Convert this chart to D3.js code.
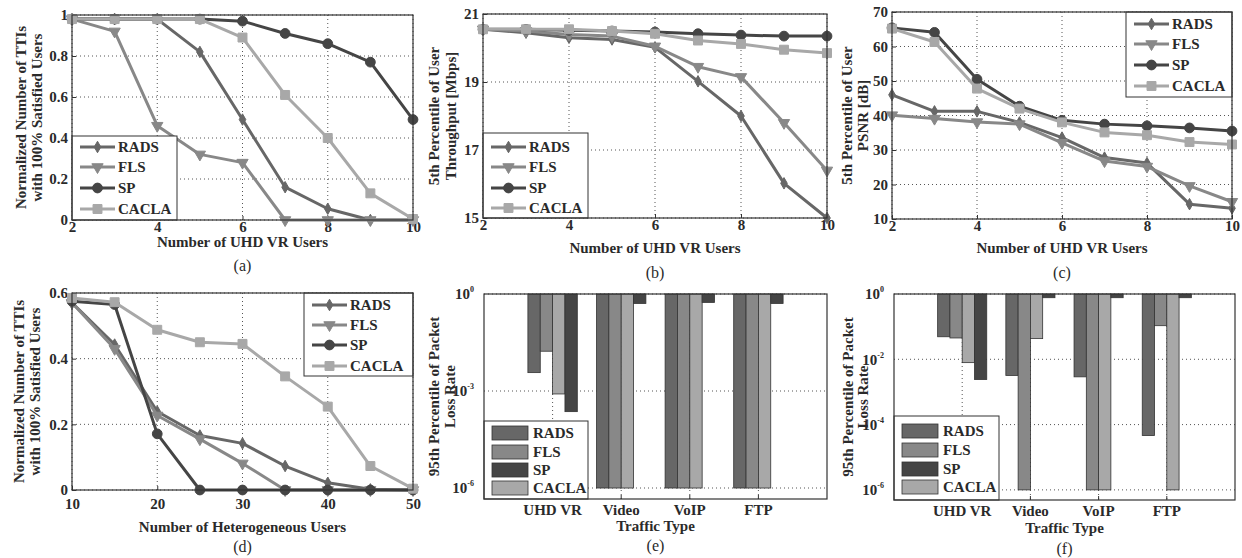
<!DOCTYPE html>
<html>
<head>
<meta charset="utf-8">
<script src="https://cdn.jsdelivr.net/npm/d3@7"></script>
<style>
  body { margin: 0; background: #fff; }
  svg { display: block; }
  text { font-family: "Liberation Serif", "Times New Roman", serif; font-weight: bold; fill: #2a2a2a; }
  .cap { font-weight: normal; }
</style>
</head>
<body>
<svg id="fig" width="1242" height="558"></svg>
<script>
// ---- data ----
const seriesNames = ["RADS", "FLS", "SP", "CACLA"];
const seriesColor = ["#676767", "#888888", "#454545", "#a8a8a8"];

const vrUsers = [2, 3, 4, 5, 6, 7, 8, 9, 10];
const hetUsers = [10, 15, 20, 25, 30, 35, 40, 45, 50];
const trafficTypes = ["UHD VR", "Video", "VoIP", "FTP"];

// (a) normalized TTIs, UHD VR users
const ttiRADS  = [0.98, 0.98, 0.98, 0.82, 0.49, 0.16, 0.055, 0, 0];
const ttiFLS   = [0.98, 0.92, 0.46, 0.32, 0.28, 0, 0, 0, 0];
const ttiSP    = [0.98, 0.98, 0.98, 0.98, 0.97, 0.91, 0.86, 0.77, 0.49];
const ttiCACLA = [0.98, 0.98, 0.98, 0.98, 0.89, 0.61, 0.40, 0.13, 0.005];

// (b) 5th percentile throughput [Mbps]
const thrRADS  = [20.55, 20.45, 20.3, 20.25, 20.02, 19.02, 18.0, 16.02, 15.0];
const thrFLS   = [20.55, 20.5, 20.4, 20.35, 20.05, 19.45, 19.15, 17.8, 16.4];
const thrSP    = [20.55, 20.55, 20.52, 20.5, 20.47, 20.42, 20.38, 20.35, 20.35];
const thrCACLA = [20.55, 20.55, 20.55, 20.5, 20.42, 20.22, 20.12, 19.95, 19.85];

// (c) 5th percentile PSNR [dB]
const psnrRADS  = [46, 41.2, 41.2, 38, 33.6, 27.8, 26.2, 14.3, 13.1];
const psnrFLS   = [40.1, 39.1, 38.1, 37.5, 32.1, 26.8, 25.2, 19.6, 15.0];
const psnrSP    = [65.4, 64.1, 50.5, 42.7, 38.6, 37.5, 37, 36.4, 35.5];
const psnrCACLA = [65.2, 61.3, 47.8, 42, 38, 35.1, 34.3, 32.3, 31.6];

// (d) normalized TTIs, heterogeneous users
const hetRADS  = [0.57, 0.443, 0.239, 0.166, 0.142, 0.073, 0.022, 0.002, 0];
const hetFLS   = [0.57, 0.43, 0.227, 0.155, 0.081, 0, 0, 0, 0];
const hetSP    = [0.575, 0.565, 0.171, 0, 0, 0, 0, 0, 0];
const hetCACLA = [0.585, 0.572, 0.488, 0.45, 0.445, 0.346, 0.254, 0.073, 0.004];

// (e) 95th percentile packet loss rate, per traffic type
const lossRADS  = [3.7e-3, 1e-6, 1e-6, 1e-6];
const lossFLS   = [1.7e-2, 1e-6, 1e-6, 1e-6];
const lossSP    = [2.3e-4, 0.51, 0.55, 0.51];
const lossCACLA = [8.1e-4, 1e-6, 1e-6, 1e-6];

// (f) 95th percentile packet loss rate, heterogeneous scenario
const hlossRADS  = [0.049, 3.2e-3, 2.9e-3, 4.6e-5];
const hlossFLS   = [0.045, 1e-6, 1e-6, 0.107];
const hlossSP    = [2.4e-3, 0.77, 0.77, 0.77];
const hlossCACLA = [7.9e-3, 0.043, 1e-6, 1e-6];

// bars are drawn RADS, FLS, CACLA, SP inside each group
const barOrder = [0, 1, 3, 2];

// tick labels
const vrTicks = [2, 4, 6, 8, 10];
const hetTicks = [10, 20, 30, 40, 50];
const ttiTicks = [0, 0.2, 0.4, 0.6, 0.8, 1];
const thrTicks = [15, 17, 19, 21];
const psnrTicks = [10, 20, 30, 40, 50, 60, 70];
const hetTtiTicks = [0, 0.2, 0.4, 0.6];
const lossTicksE = [-6, -3, 0];
const lossTicksF = [-6, -4, -2, 0];

const svg = d3.select("#fig");
const FS = 15;

function frame(g, b) {
    g.append("rect")
        .attr("x", b.l).attr("y", b.t)
        .attr("width", b.r - b.l).attr("height", b.b - b.t)
        .attr("fill", "none").attr("stroke", "#333").attr("stroke-width", 1.2);
}

function yTitle(g, lines, xs, yc) {
    lines.forEach((s, i) => {
        g.append("text")
            .attr("transform", `translate(${xs[i]},${yc}) rotate(-90)`)
            .attr("text-anchor", "middle").attr("dy", "0.35em")
            .attr("font-size", FS).text(s);
    });
}

function centerText(g, s, x, y, cls, size) {
    g.append("text").attr("class", cls || null)
        .attr("x", x).attr("y", y).attr("dy", "0.35em")
        .attr("text-anchor", "middle").attr("font-size", size || FS).text(s);
}

function marker(i) {
    const types = [d3.symbolDiamond, d3.symbolTriangle, d3.symbolCircle, d3.symbolSquare];
    const sizes = [38, 55, 75, 80];
    return d3.symbol().type(types[i]).size(sizes[i])();
}

function linePanel(p) {
    const g = svg.append("g");
    const b = p.box;
    const x = d3.scaleLinear().domain(p.xDomain).range([b.l, b.r]);
    const y = d3.scaleLinear().domain(p.yDomain).range([b.b, b.t]);

    // dotted grid
    g.append("g").selectAll("line").data(p.xTicks).join("line")
        .attr("x1", d => x(d)).attr("x2", d => x(d)).attr("y1", b.t).attr("y2", b.b)
        .attr("stroke", "#555").attr("stroke-dasharray", "1,3");
    g.append("g").selectAll("line").data(p.yTicks).join("line")
        .attr("y1", d => y(d)).attr("y2", d => y(d)).attr("x1", b.l).attr("x2", b.r)
        .attr("stroke", "#555").attr("stroke-dasharray", "1,3");

    // axes (inward ticks)
    g.append("g").attr("transform", `translate(0,${b.b})`)
        .call(d3.axisBottom(x).tickValues(p.xTicks).tickSize(-4).tickPadding(p.xPad || 1).tickFormat(d3.format("d")))
        .call(a => a.select(".domain").remove())
        .call(a => a.selectAll("text").attr("font-size", FS).attr("fill", "#2a2a2a").attr("font-family", null))
        .call(a => a.selectAll("line").attr("stroke", "#333"));
    g.append("g").attr("transform", `translate(${b.l},0)`)
        .call(d3.axisLeft(y).tickValues(p.yTicks).tickSize(-4).tickPadding(4).tickFormat(d => String(d)))
        .call(a => a.select(".domain").remove())
        .call(a => a.selectAll("text").attr("font-size", FS).attr("fill", "#2a2a2a").attr("font-family", null))
        .call(a => a.selectAll("line").attr("stroke", "#333"));

    // series
    const line = d3.line().x((d, i) => x(p.xs[i])).y(d => y(d));
    p.series.forEach((vals, si) => {
        g.append("path").datum(vals).attr("d", line)
            .attr("fill", "none").attr("stroke", seriesColor[si]).attr("stroke-width", 3)
            .attr("stroke-linejoin", "round");
        g.append("g").selectAll("path").data(vals).join("path")
            .attr("d", marker(si))
            .attr("transform", (d, i) => `translate(${x(p.xs[i])},${y(d)})` + (si === 1 ? " rotate(180)" : ""))
            .attr("fill", seriesColor[si]).attr("stroke", seriesColor[si]);
    });

    // legend
    const L = p.legend;
    g.append("rect").attr("x", L.x0).attr("y", L.y0)
        .attr("width", L.x1 - L.x0).attr("height", L.y1 - L.y0)
        .attr("fill", "#fff").attr("stroke", "#333").attr("stroke-width", 1);
    seriesNames.forEach((name, si) => {
        const yy = L.rows[si];
        g.append("line").attr("x1", L.x0 + 8).attr("x2", L.x0 + 43).attr("y1", yy).attr("y2", yy)
            .attr("stroke", seriesColor[si]).attr("stroke-width", 3);
        g.append("path").attr("d", marker(si))
            .attr("transform", `translate(${L.x0 + 25.5},${yy})` + (si === 1 ? " rotate(180)" : ""))
            .attr("fill", seriesColor[si]).attr("stroke", seriesColor[si]);
        g.append("text").attr("x", L.x0 + 46).attr("y", yy).attr("dy", "0.35em")
            .attr("font-size", FS).text(name);
    });

    frame(g, b);
    yTitle(g, p.yTitle, p.yTitleX, (b.t + b.b) / 2);
    centerText(g, p.xTitle, (b.l + b.r) / 2, p.xTitleY);
    centerText(g, p.caption, (b.l + b.r) / 2, p.captionY, "cap", 16);
}

function barPanel(p) {
    const g = svg.append("g");
    const b = p.box;
    const x = d3.scaleLinear().domain([0, 5]).range([b.l, b.r]);
    const y = d3.scaleLog().domain([Math.pow(10, p.yMinExp), 1]).range([b.b, b.t]);
    const cats = trafficTypes.map((d, i) => i + 1);

    // dotted grid
    g.append("g").selectAll("line").data(cats).join("line")
        .attr("x1", d => x(d)).attr("x2", d => x(d)).attr("y1", b.t).attr("y2", b.b)
        .attr("stroke", "#555").attr("stroke-dasharray", "1,3");
    g.append("g").selectAll("line").data(p.yTicks).join("line")
        .attr("y1", d => y(Math.pow(10, d))).attr("y2", d => y(Math.pow(10, d)))
        .attr("x1", b.l).attr("x2", b.r)
        .attr("stroke", "#555").attr("stroke-dasharray", "1,3");

    // bars hang from 10^0
    const bw = 0.18;
    barOrder.forEach((si, k) => {
        g.append("g").selectAll("rect").data(p.series[si]).join("rect")
            .attr("x", (d, i) => x(i + 1 + (k - 2) * bw))
            .attr("width", x(bw) - x(0))
            .attr("y", y(1))
            .attr("height", d => y(d) - y(1))
            .attr("fill", seriesColor[si]).attr("stroke", "#333").attr("stroke-width", 0.8);
    });

    // ticks
    g.append("g").selectAll("line").data(cats).join("line")
        .attr("x1", d => x(d)).attr("x2", d => x(d)).attr("y1", b.b).attr("y2", b.b - 4)
        .attr("stroke", "#333");
    g.append("g").selectAll("text").data(trafficTypes).join("text")
        .attr("x", (d, i) => x(i + 1)).attr("y", p.tickY).attr("dy", "0.35em")
        .attr("text-anchor", "middle").attr("font-size", FS).text(d => d);
    const yl = g.append("g").selectAll("text").data(p.yTicks).join("text")
        .attr("x", b.l - 10).attr("y", d => y(Math.pow(10, d))).attr("dy", "0.35em")
        .attr("text-anchor", "end").attr("font-size", FS);
    yl.append("tspan").text("10");
    yl.append("tspan").attr("dy", -7).attr("font-size", 8).text(d => String(d));

    // legend
    const L = p.legend;
    g.append("rect").attr("x", L.x0).attr("y", L.y0)
        .attr("width", L.x1 - L.x0).attr("height", L.y1 - L.y0)
        .attr("fill", "#fff").attr("stroke", "#333").attr("stroke-width", 1);
    seriesNames.forEach((name, si) => {
        const yy = L.rows[si];
        g.append("rect").attr("x", L.x0 + 8).attr("y", yy - 7).attr("width", 36).attr("height", 14)
            .attr("fill", seriesColor[si]).attr("stroke", "#333").attr("stroke-width", 0.8);
        g.append("text").attr("x", L.x0 + 49).attr("y", yy).attr("dy", "0.35em")
            .attr("font-size", FS).text(name);
    });

    frame(g, b);
    yTitle(g, ["95th Percentile of Packet", "Loss Rate"], p.yTitleX, (b.t + b.b) / 2);
    centerText(g, "Traffic Type", (b.l + b.r) / 2, p.xTitleY);
    centerText(g, p.caption, (b.l + b.r) / 2, p.captionY, "cap", 16);
}

linePanel({
    box: { l: 72, r: 413, t: 15, b: 220 },
    xDomain: [2, 10], yDomain: [0, 1], xTicks: vrTicks, yTicks: ttiTicks, xs: vrUsers,
    series: [ttiRADS, ttiFLS, ttiSP, ttiCACLA],
    legend: { x0: 72, y0: 136, x1: 177, y1: 220, rows: [147, 167, 188, 209] },
    yTitle: ["Normalized Number of TTIs", "with 100% Satisfied Users"], yTitleX: [21, 37],
    xTitle: "Number of UHD VR Users", xTitleY: 242, caption: "(a)", captionY: 265
});

linePanel({
    box: { l: 483, r: 827, t: 14, b: 218 },
    xDomain: [2, 10], yDomain: [15, 21], xTicks: vrTicks, yTicks: thrTicks, xs: vrUsers,
    series: [thrRADS, thrFLS, thrSP, thrCACLA],
    legend: { x0: 483, y0: 133, x1: 588, y1: 218, rows: [147, 167, 188, 208] },
    yTitle: ["5th Percentile of User", "Throughput [Mbps]"], yTitleX: [434, 451],
    xTitle: "Number of UHD VR Users", xTitleY: 248, caption: "(b)", captionY: 272
});

linePanel({
    box: { l: 892, r: 1232, t: 12, b: 219 },
    xDomain: [2, 10], yDomain: [10, 70], xTicks: vrTicks, yTicks: psnrTicks, xs: vrUsers,
    series: [psnrRADS, psnrFLS, psnrSP, psnrCACLA],
    legend: { x0: 1126, y0: 12, x1: 1232, y1: 97, rows: [24, 44, 65, 86] },
    yTitle: ["5th Percentile of User", "PSNR [dB]"], yTitleX: [847, 863],
    xTitle: "Number of UHD VR Users", xTitleY: 248, caption: "(c)", captionY: 272
});

linePanel({
    box: { l: 72, r: 413, t: 293, b: 490 },
    xDomain: [10, 50], yDomain: [0, 0.6], xTicks: hetTicks, yTicks: hetTtiTicks, xs: hetUsers,
    series: [hetRADS, hetFLS, hetSP, hetCACLA], xPad: 8,
    legend: { x0: 304, y0: 293, x1: 413, y1: 376, rows: [305, 325, 345, 366] },
    yTitle: ["Normalized Number of TTIs", "with 100% Satisfied Users"], yTitleX: [19, 35],
    xTitle: "Number of Heterogeneous Users", xTitleY: 527, caption: "(d)", captionY: 546
});

barPanel({
    box: { l: 484, r: 827, t: 294, b: 499 },
    yMinExp: -6.34, yTicks: lossTicksE,
    series: [lossRADS, lossFLS, lossSP, lossCACLA],
    legend: { x0: 484, y0: 421, x1: 588, y1: 499, rows: [433, 452, 470, 488] },
    yTitleX: [434, 450], tickY: 510, xTitleY: 526, caption: "(e)", captionY: 545
});

barPanel({
    box: { l: 894, r: 1235, t: 294, b: 500 },
    yMinExp: -6.31, yTicks: lossTicksF,
    series: [hlossRADS, hlossFLS, hlossSP, hlossCACLA],
    legend: { x0: 894, y0: 416, x1: 999, y1: 500, rows: [431, 450, 469, 487] },
    yTitleX: [848, 863], tickY: 511, xTitleY: 528, caption: "(f)", captionY: 548
});
</script>
</body>
</html>
